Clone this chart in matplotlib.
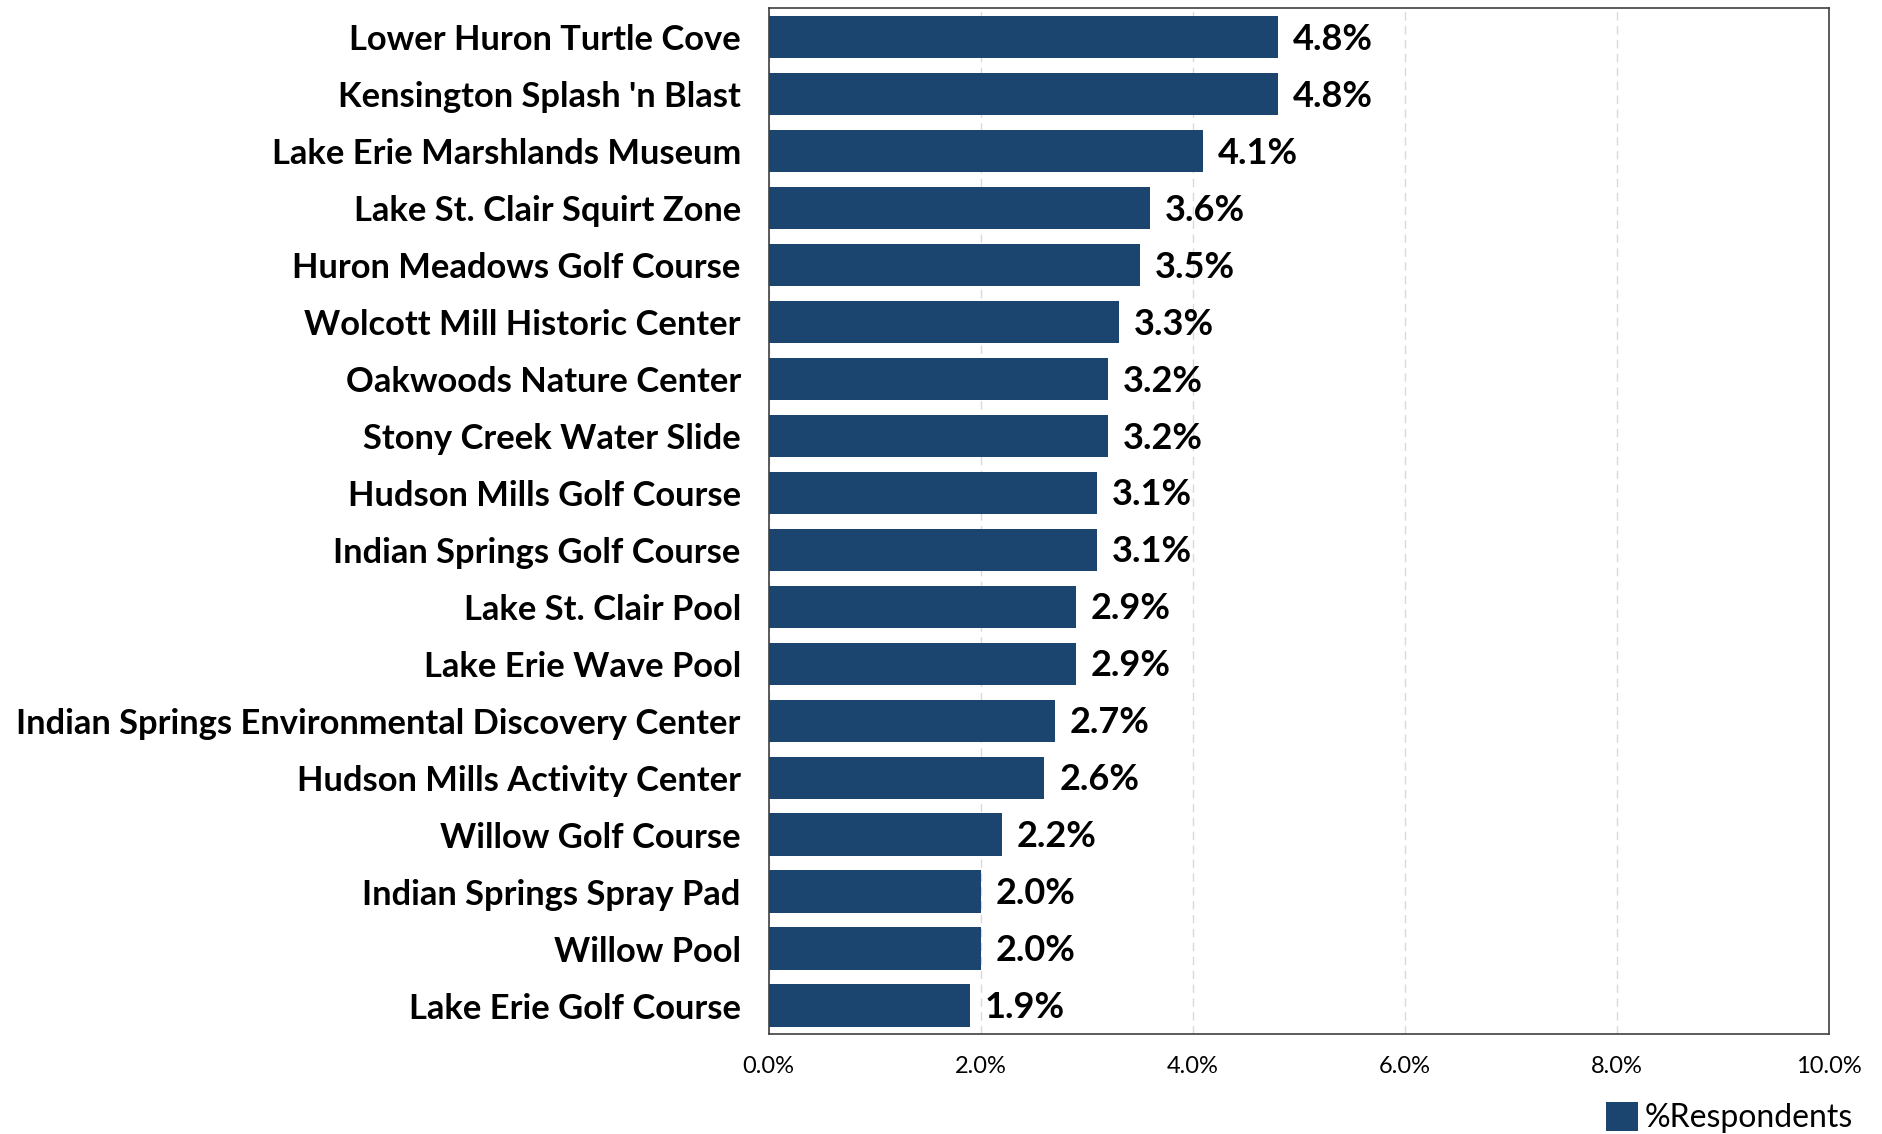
import matplotlib.pyplot as plt
from matplotlib.ticker import FuncFormatter

plt.rcParams["font.family"] = ["Lato", "DejaVu Sans"]

facilities = [
    "Lower Huron Turtle Cove",
    "Kensington Splash 'n Blast",
    "Lake Erie Marshlands Museum",
    "Lake St. Clair Squirt Zone",
    "Huron Meadows Golf Course",
    "Wolcott Mill Historic Center",
    "Oakwoods Nature Center",
    "Stony Creek Water Slide",
    "Hudson Mills Golf Course",
    "Indian Springs Golf Course",
    "Lake St. Clair Pool",
    "Lake Erie Wave Pool",
    "Indian Springs Environmental Discovery Center",
    "Hudson Mills Activity Center",
    "Willow Golf Course",
    "Indian Springs Spray Pad",
    "Willow Pool",
    "Lake Erie Golf Course",
]
respondents = [4.8, 4.8, 4.1, 3.6, 3.5, 3.3, 3.2, 3.2, 3.1, 3.1,
               2.9, 2.9, 2.7, 2.6, 2.2, 2.0, 2.0, 1.9]
xticks = [0, 2, 4, 6, 8, 10]

BAR_COLOR = "#1B446E"

fig = plt.figure(figsize=(18.83, 11.34), dpi=100)
ax = fig.add_axes([768.6 / 1883, 1 - 1034 / 1134, (1829 - 768.6) / 1883, (1034 - 8.4) / 1134])

ypos = list(range(len(facilities)))
bars = ax.barh(ypos, respondents, height=0.74, color=BAR_COLOR, label="%Respondents", zorder=3)
ax.set_ylim(len(facilities) - 0.5, -0.5)
ax.set_xlim(0, 10)
ax.set_yticks(ypos)
ax.set_yticklabels(facilities, fontsize=24.8, fontweight="bold")
ax.set_xticks(xticks)
ax.xaxis.set_major_formatter(FuncFormatter(lambda v, p: f"{v:.1f}%"))
ax.tick_params(axis="x", labelsize=17, length=0, pad=16)
ax.tick_params(axis="y", length=0, pad=20)

ax.grid(axis="x", color="#D9D9D9", linestyle=(0, (6, 4)), linewidth=1, zorder=0)
for s in ax.spines.values():
    s.set_color("#404040")
    s.set_linewidth(1.2)

for b, v in zip(bars, respondents):
    ax.text(v + 0.14, b.get_y() + b.get_height() / 2 + 0.04, f"{v:.1f}%",
            va="center", ha="left", fontsize=26, fontweight="bold", zorder=4)

fig.legend(loc="lower right", bbox_to_anchor=(1878 / 1883, -0.022), frameon=False,
           fontsize=23, handlelength=1.0, handleheight=1.0, handletextpad=0.2,
           borderpad=0.3)

fig.savefig("out.png", dpi=100)
